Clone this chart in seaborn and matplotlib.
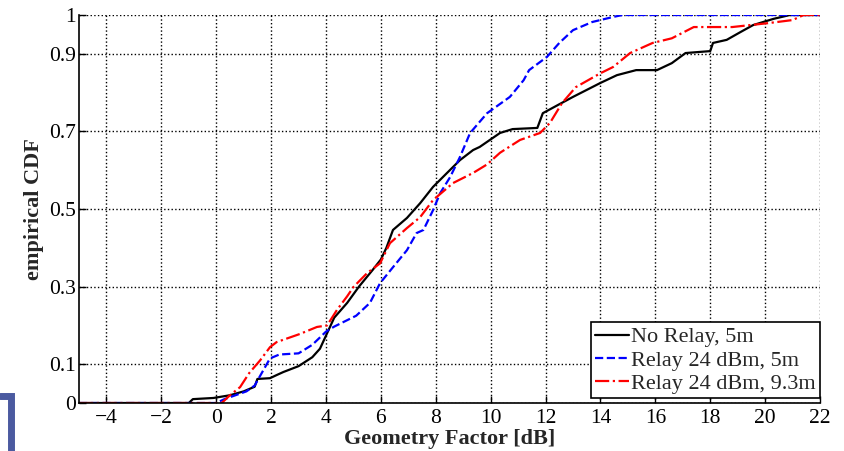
import matplotlib
matplotlib.use("Agg")
import matplotlib.pyplot as plt
from matplotlib.lines import Line2D
import seaborn as sns

# points
black_x = [-5, -1.0, -0.85, -0.1, 0.5, 1.0, 1.4, 1.5, 1.96, 2.2, 2.45, 3.0, 3.5, 3.78, 4.04,
           4.3, 4.77, 5.2, 5.7, 6.0, 6.2, 6.44, 6.95, 7.43, 7.9, 8.41, 8.88, 9.36, 9.6, 10.34,
           10.8, 11.7, 11.9, 12.5, 13.0, 14.0, 14.6, 15.3, 16.06, 16.6, 17.1, 18.0, 18.1,
           18.6, 19.1, 19.56, 20.3, 20.9, 22]
black_y = [0, 0, 0.01, 0.013, 0.02, 0.03, 0.042, 0.062, 0.064, 0.072, 0.08, 0.095, 0.118, 0.14,
           0.18, 0.22, 0.258, 0.3, 0.343, 0.37, 0.40, 0.446, 0.477, 0.515, 0.557, 0.593, 0.626,
           0.652, 0.66, 0.696, 0.706, 0.709, 0.747, 0.77, 0.789, 0.825, 0.845, 0.858, 0.858,
           0.876, 0.902, 0.907, 0.928, 0.936, 0.956, 0.974, 0.99, 1.0, 1.0]

blue_x = [-5, 0.0, 0.3, 1.1, 1.4, 1.6, 1.96, 2.3, 3.0, 3.5, 4.0, 4.3, 4.9, 5.1, 5.6, 5.97,
          6.44, 6.95, 7.3, 7.55, 7.9, 8.16, 8.52, 8.88, 9.25, 9.87, 10.7, 11.2, 11.4, 12.05,
          12.5, 13.0, 13.7, 14.46, 14.8, 22]
blue_y = [0, 0, 0.01, 0.03, 0.045, 0.07, 0.115, 0.125, 0.128, 0.15, 0.184, 0.197, 0.218, 0.225,
          0.258, 0.309, 0.35, 0.394, 0.438, 0.446, 0.497, 0.541, 0.582, 0.634, 0.696, 0.747,
          0.789, 0.832, 0.858, 0.892, 0.928, 0.961, 0.982, 0.995, 1.0, 1.0]

red_x = [-5, 0.2, 0.5, 0.87, 1.2, 1.6, 1.96, 2.2, 3.05, 3.67, 4.04, 4.4, 4.77, 5.0, 5.5, 5.97,
         6.33, 6.95, 7.43, 7.9, 8.63, 9.36, 9.87, 10.34, 11.07, 11.8, 12.16, 12.6, 13.1, 14.0,
         14.46, 15.08, 15.9, 16.6, 17.4, 18.8, 20.1, 21.0, 21.4, 22]
red_y = [0, 0, 0.02, 0.041, 0.077, 0.11, 0.144, 0.157, 0.178, 0.196, 0.2, 0.24, 0.275, 0.299,
         0.335, 0.36, 0.412, 0.451, 0.479, 0.523, 0.567, 0.593, 0.615, 0.645, 0.678, 0.696,
         0.722, 0.773, 0.814, 0.85, 0.866, 0.902, 0.928, 0.94, 0.969, 0.969, 0.979, 0.987,
         1.0, 1.0]

labels = ["No Relay, 5m", "Relay 24 dBm, 5m", "Relay 24 dBm, 9.3m"]
x_ticks = list(range(-4, 23, 2))
y_ticks = [0, 0.1, 0.3, 0.5, 0.7, 0.9, 1]
y_ticklabels = ["0", "0.1", "0.3", "0.5", "0.7", "0.9", "1"]

sns.set_style("white")
plt.rcParams["font.family"] = ["Liberation Serif", "DejaVu Serif"]

fig = plt.figure(figsize=(8.44, 4.51), dpi=100)
ax = fig.add_axes([0.0936, 0.1064, 0.878, 0.8603])

sns.lineplot(x=black_x, y=black_y, color="black", linewidth=1.6, ax=ax, sort=False, estimator=None)
sns.lineplot(x=blue_x, y=blue_y, color="blue", linewidth=1.6, linestyle="--", ax=ax,
             sort=False, estimator=None)
sns.lineplot(x=red_x, y=red_y, color="red", linewidth=1.6, linestyle="-.", ax=ax,
             sort=False, estimator=None)

ax.set_xlim(-5, 22)
ax.set_ylim(0, 1)
ax.set_xticks(x_ticks)
ax.set_xticklabels([str(t).replace("-", "\u2212") for t in x_ticks])
ax.set_yticks(y_ticks)
ax.set_yticklabels(y_ticklabels)
ax.tick_params(axis="both", labelsize=15.5, direction="in", length=5, width=1, colors="black",
               bottom=True, left=True)
ax.tick_params(axis="y", pad=2)
ax.tick_params(axis="x", pad=4)
ax.grid(True, color="black", linestyle=":", linewidth=1)

for side in ["top", "right"]:
    ax.spines[side].set_visible(False)
for side in ["left", "bottom"]:
    ax.spines[side].set_color("black")
    ax.spines[side].set_linewidth(1.2)

ax.set_xlabel("Geometry Factor [dB]", fontsize=16, fontweight="bold", labelpad=1)
ax.set_ylabel("empirical CDF", fontsize=16, fontweight="bold", labelpad=4)

handles = [Line2D([], [], color="black", linewidth=1.6),
           Line2D([], [], color="blue", linewidth=1.6, linestyle="--"),
           Line2D([], [], color="red", linewidth=1.6, linestyle="-.")]
leg = ax.legend(handles, labels, loc="lower right", bbox_to_anchor=(1.0, 0.012),
                borderaxespad=0, fontsize=16, frameon=True, fancybox=False,
                framealpha=1, edgecolor="black", handlelength=1.5, handletextpad=0.1,
                labelspacing=0.12, borderpad=0.2)
leg.get_frame().set_linewidth(1.2)

# page-crop remnant at the lower left corner
fig.add_artist(Line2D([0.0, 0.0135, 0.0135], [0.122, 0.122, 0.0], transform=fig.transFigure,
                      color="#4b5aa0", linewidth=5, solid_joinstyle="miter"))

fig.savefig("out.png", dpi=100)
